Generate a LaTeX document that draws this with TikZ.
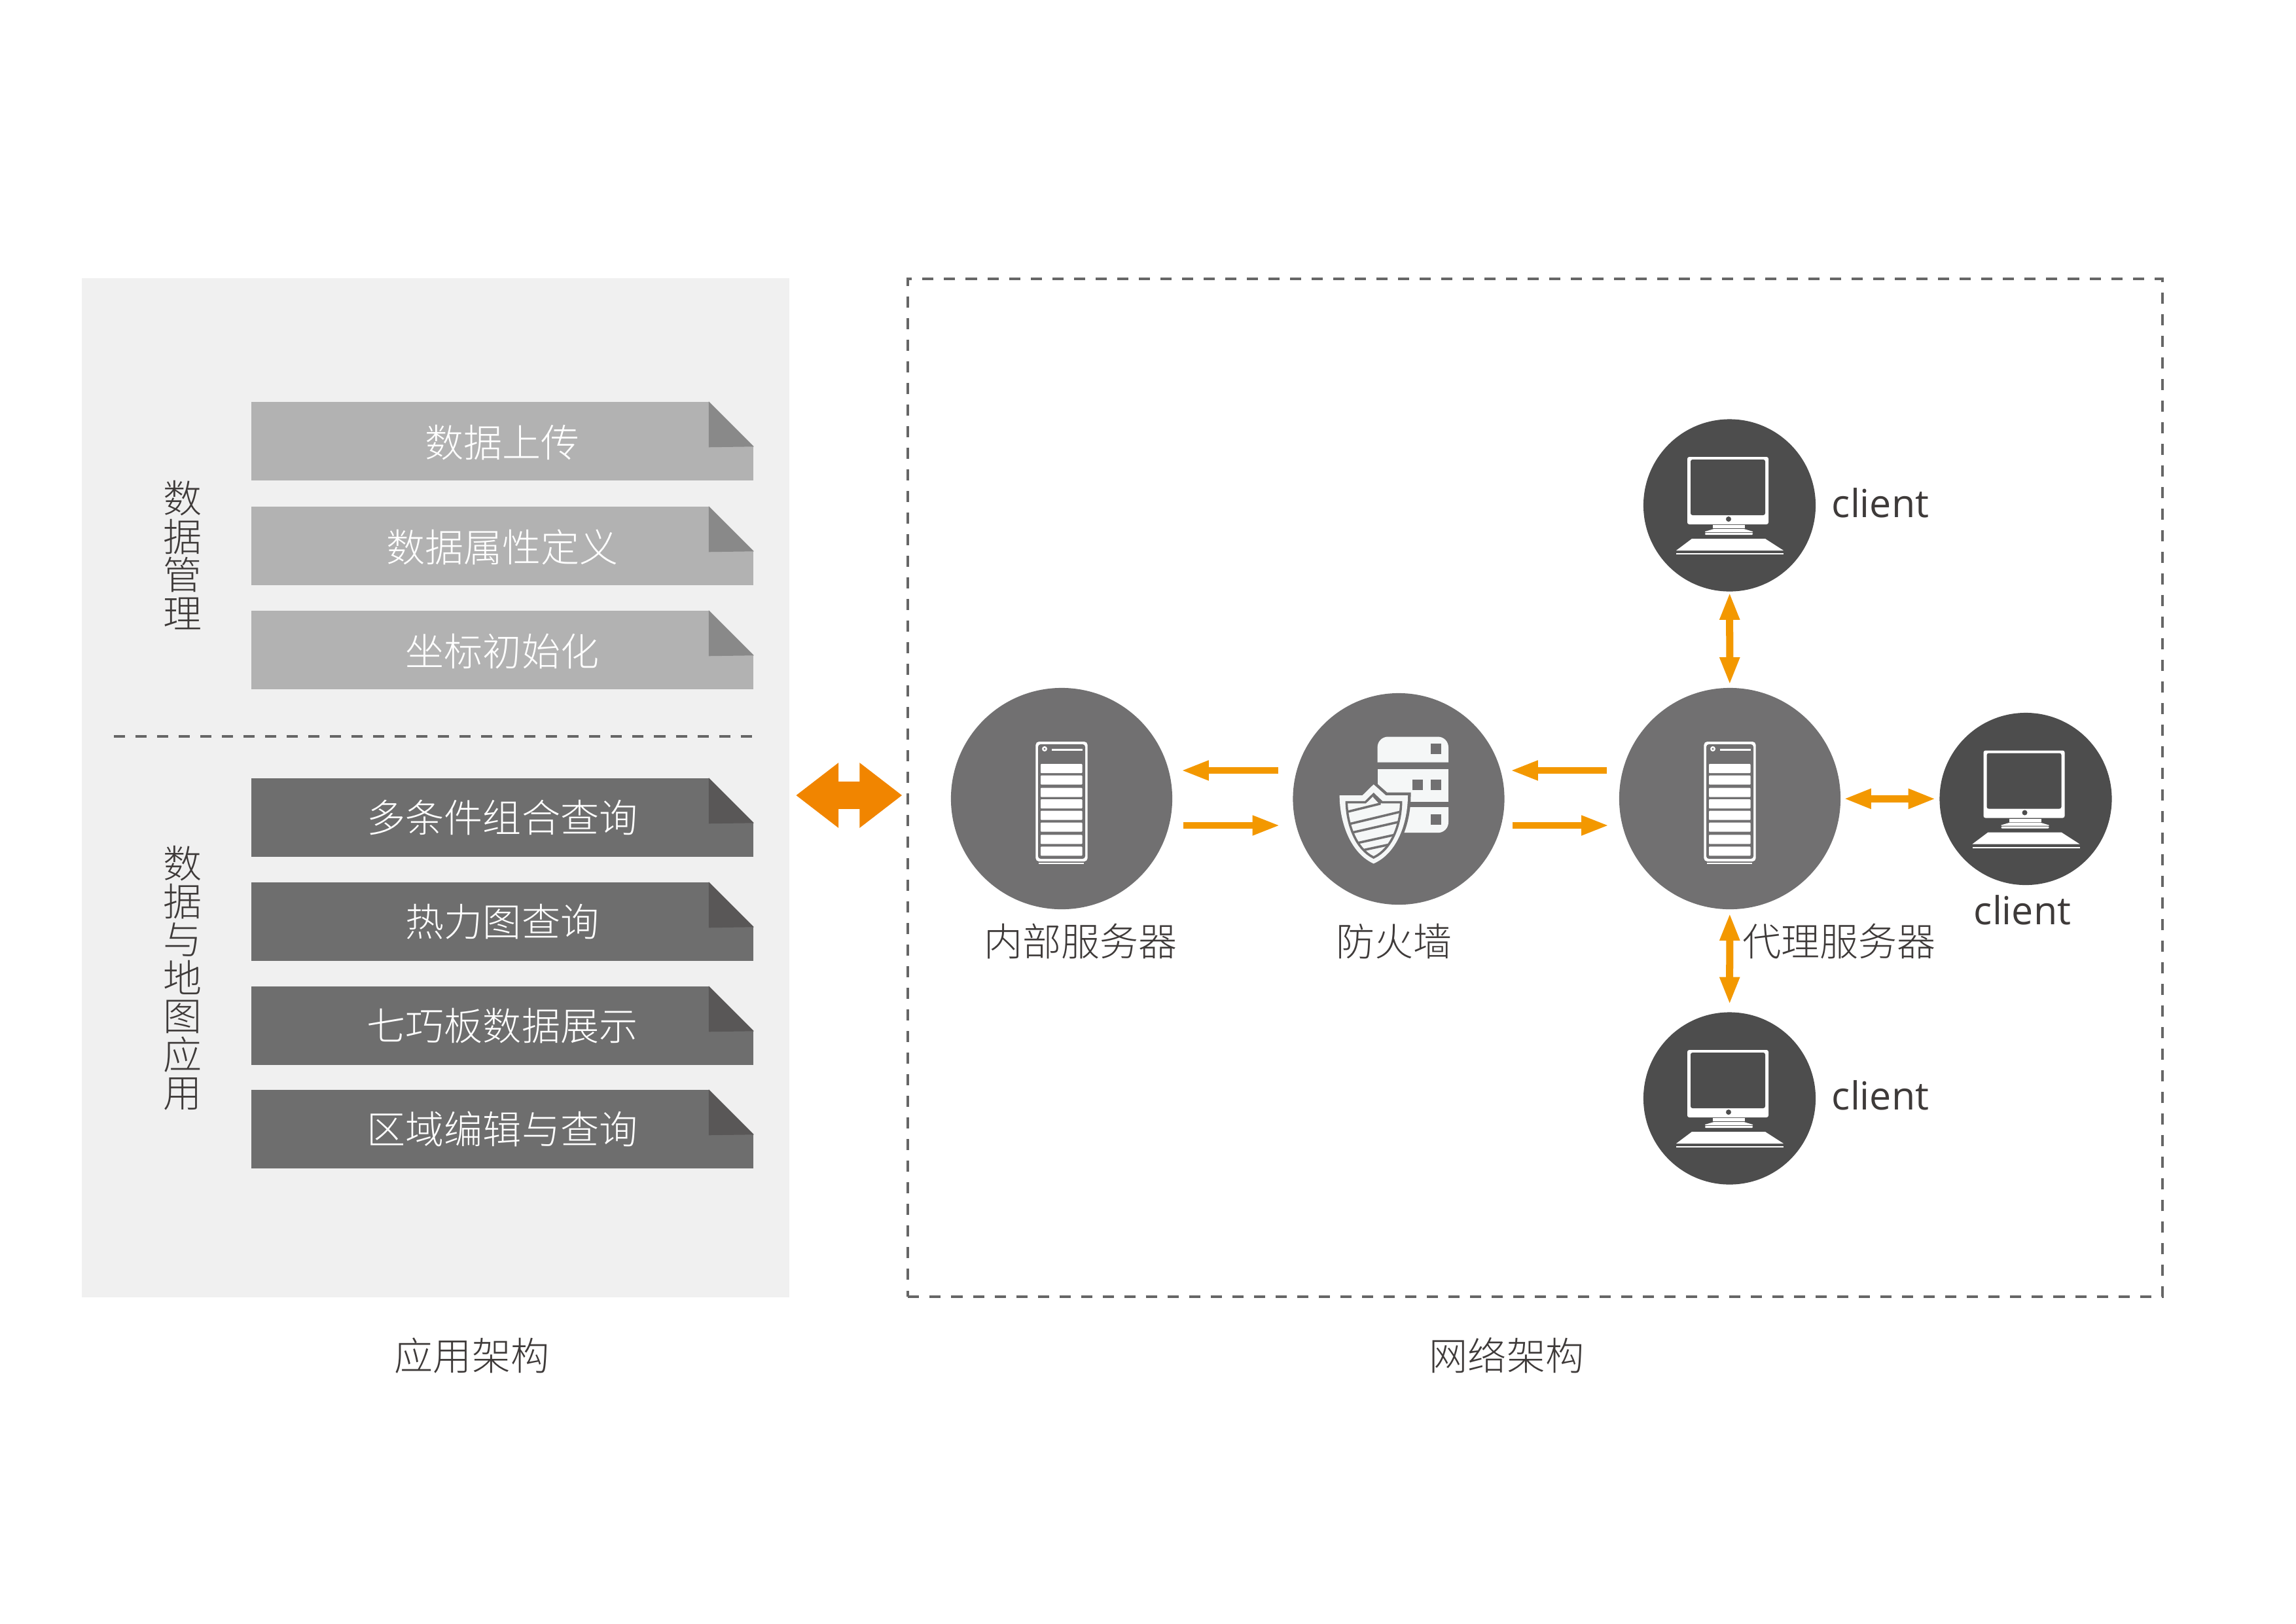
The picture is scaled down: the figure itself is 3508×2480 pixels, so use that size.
\documentclass[tikz,border=0pt]{standalone}
\usepackage{fontspec}
\newfontfamily\cjk{Noto Sans CJK SC Light}
\newfontfamily\latn{Open Sans}
\usetikzlibrary{arrows.meta, positioning, calc, shapes}
\definecolor{panelgray}{HTML}{F0F0F0}
\definecolor{lightrib}{HTML}{B2B2B2}
\definecolor{lightfold}{HTML}{898989}
\definecolor{darkrib}{HTML}{6E6E6E}
\definecolor{darkfold}{HTML}{595757}
\definecolor{hostgray}{HTML}{717071}
\definecolor{clientgray}{HTML}{4D4D4D}
\definecolor{flow}{HTML}{F39800}
\definecolor{bigflow}{HTML}{F18500}
\definecolor{inktext}{HTML}{3E3A39}
\definecolor{iconlight}{HTML}{F5F7F7}
\newcommand{\shieldouter}{(80,105) -- (185,105) -- (236,55) -- (292,105) -- (393,105)
  .. controls (393,230) and (345,370) .. (236,418) .. controls (130,370) and (80,230) .. (80,105) -- cycle}
\newcommand{\shieldinner}{(112,137) -- (198,137) -- (236,100) -- (275,137) -- (362,137)
  .. controls (360,240) and (320,350) .. (236,390) .. controls (155,350) and (115,240) .. (112,137) -- cycle}
\tikzset{
  label59/.style={font=\cjk\fontsize{16.8}{16.6}\selectfont, text=inktext, inner sep=0pt, align=center},
  clientlabel/.style={font=\latn\fontsize{16.8}{16.8}\selectfont, text=inktext, inner sep=0pt, anchor=base},
  ribbon/.style={minimum width=7.67cm, minimum height=1.2cm, inner sep=0pt, font=\cjk\fontsize{16.8}{16.8}\selectfont, text=white},
  host/.style={circle, fill=hostgray, minimum size=3.38cm, inner sep=0pt},
  client/.style={circle, fill=clientgray, minimum size=2.63cm, inner sep=0pt},
  flowline/.style={draw=flow, line width=.1cm, -{Triangle[length=.42cm,width=.28cm]}},
  biline/.style={draw=flow, line width=.11cm, {Triangle[length=.42cm,width=.28cm]}-{Triangle[length=.42cm,width=.28cm]}},
  dashline/.style={draw=black!60, line width=.04cm, dash pattern=on .17cm off .16cm},
  pics/rack/.style={code={
    \fill[white, rounded corners=.05cm] (-39.6,-87) rectangle (39.6,96);
    \fill[hostgray, rounded corners=.04cm] (-36,-83) rectangle (36,92);
    \fill[white] (-26,-76) circle (4);
    \fill[hostgray] (-26,-76) circle (1.5);
    \fill[white] (-15,-76.5) rectangle (31.5,-73.5);
    \foreach \ytop in {-53,-35.3,-16.3,1,18.7,36.7,55.3,73.3}
      \fill[white, rounded corners=.01cm] (-32,\ytop) rectangle (31.5,\ytop+14);
    \fill[white] (-35,97.7) rectangle (34,100);
  }},
  pics/monitor/.style={code={
    \fill[white, rounded corners=.03cm] (-64.5,-74) rectangle (59.5,29);
    \fill[clientgray, rounded corners=.03cm] (-59.5,-70) rectangle (54.5,15);
    \fill[clientgray] (-1.5,21) circle (4);
    \fill[white] (-25.5,30) rectangle (23.5,35);
    \fill[white] (-24,36) -- (22,36) -- (35.5,40) -- (35.5,41) -- (-37.5,41) -- (-37.5,40) -- cycle;
    \fill[white, rounded corners=.012cm] (-37.5,42) rectangle (35.5,45);
    \fill[white] (-57.5,51) -- (54.5,51) -- (82.5,69) -- (-81.5,69) -- cycle;
    \fill[white] (-81.5,73) rectangle (82.5,75);
  }},
  pics/firewall/.style={code={
    % server stack
    \fill[iconlight] (-32.4,-56) [rounded corners=.16cm] -- (-32.4,-95) -- (76,-95) [sharp corners] -- (76,-56) -- cycle;
    \fill[iconlight] (-32.4,-46) rectangle (76,4);
    \fill[iconlight] (-32.4,12.7) [rounded corners=.16cm] -- (-32.4,51.7) -- (76,51.7) [sharp corners] -- (76,12.7) -- cycle;
    \fill[hostgray] (48.7,-84.2) rectangle (64.5,-68.5);
    \fill[hostgray] (21,-29.2) rectangle (37,-13.5);
    \fill[hostgray] (48.7,-29.2) rectangle (64.5,-13.5);
    \fill[hostgray] (48.7,23.8) rectangle (64.5,39.5);
    % shield
    \begin{scope}[shift={(-117,-40.5)}, scale=1/3]
      \draw[draw=hostgray, line width=.09cm] \shieldouter;
      \fill[iconlight] \shieldouter;
      \draw[draw=hostgray, fill=iconlight, line width=.035cm] \shieldinner;
      \clip \shieldinner;
      \foreach \ya/\xa/\yb/\xb in {182/110/143/268, 240/110/180/360, 282/110/225/360, 335/110/280/360, 360/170/330/310}
        \draw[hostgray, line width=.035cm] (\xa,\ya) -- (\xb,\yb);
      \draw[hostgray, line width=.035cm] (268,143) -- (236,108);
    \end{scope}
  }}
}

\begin{document}
\begin{tikzpicture}[x=0.01cm, y=-0.01cm]
  \useasboundingbox (0,0) rectangle (3508,2480);
  % Left panel and network box
  \node[fill=panelgray, minimum width=10.81cm, minimum height=15.57cm, inner sep=0pt] (panel) at (665.5,1203.5) {};
  \node[dashline, minimum width=19.15cm, minimum height=15.55cm, inner sep=0pt, draw] (netbox) at (2345.5,1203.5) {};
  \node[label59] (appcap) at (721,2071) {应用架构};
  \node[label59] (netcap) at (2302,2071) {网络架构};

  % Ribbons
  \foreach \nm/\ytop/\txt in {up/614/数据上传, attr/774/数据属性定义, coord/933/坐标初始化}{
    \node[ribbon, fill=lightrib, text depth=-.03cm] (\nm) at (767.5,\ytop+60) {\txt};
    \fill[panelgray] (\nm.north east) -- ++(-69,0) -- ++(69,69) -- cycle;
    \fill[lightfold] (\nm.north east) ++(-69,0) -- ++(69,69) -- ++(-69,1) -- cycle;
  }
  \foreach \nm/\ytop/\txt in {multi/1189/多条件组合查询, heat/1348/热力图查询, board/1507/七巧板数据展示, area/1665/区域编辑与查询}{
    \node[ribbon, fill=darkrib] (\nm) at (767.5,\ytop+60) {\txt};
    \fill[panelgray] (\nm.north east) -- ++(-69,0) -- ++(69,69) -- cycle;
    \fill[darkfold] (\nm.north east) ++(-69,0) -- ++(69,69) -- ++(-69,1) -- cycle;
  }
  \node[label59] (datalbl) at (279,848) {数\\据\\管\\理};
  \node[label59] (maplbl) at (279,1494) {数\\据\\与\\地\\图\\应\\用};
  \coordinate (ruleL) at (174,1125);
  \coordinate (ruleR) at (1157,1125);
  \draw[dashline] (ruleL) -- (ruleR);

  % Hosts
  \node[host] (inner) at (1622,1220) {};
  \node[host, minimum size=3.23cm] (fire) at (2137,1220.5) {};
  \node[host] (proxy) at (2643,1220) {};
  \pic at (inner) {rack};
  \pic at (fire) {firewall};
  \pic at (proxy) {rack};
  \node[label59] (innerlbl) at (1651,1438) {内部服务器};
  \node[label59] (firelbl) at (2130,1438) {防火墙};
  \node[label59] (proxylbl) at (2810,1438) {代理服务器};

  % Clients
  \node[client] (ctop) at (2642.5,772) {};
  \node[client] (cright) at (3095,1220.5) {};
  \node[client] (cbot) at (2642.5,1678) {};
  \foreach \c in {ctop,cright,cbot}
    \pic at (\c) {monitor};
  \node[clientlabel] (ctoplbl) at (2873,790) {client};
  \node[clientlabel] (crightlbl) at (3090,1412) {client};
  \node[clientlabel] (cbotlbl) at (2873,1695) {client};

  % Arrows
  \coordinate (upper) at (0,1177);
  \coordinate (lower) at (0,1261);
  \coordinate (bigmid) at (0,1215);
  \draw[flowline, shorten <=.18cm, shorten >=.085cm] (proxy.west |- upper) -- (fire.east |- upper);
  \draw[flowline, shorten <=.115cm, shorten >=.15cm] (fire.east |- lower) -- (proxy.west |- lower);
  \draw[flowline, shorten <=.22cm, shorten >=.13cm] (fire.west |- upper) -- (inner.east |- upper);
  \draw[flowline, shorten <=.16cm, shorten >=.19cm] (inner.east |- lower) -- (fire.west |- lower);
  \draw[biline, shorten <=.005cm, shorten >=.04cm] (ctop) -- (proxy);
  \draw[biline, shorten <=.05cm, shorten >=.11cm] (proxy) -- (cbot);
  \draw[biline, shorten <=.04cm, shorten >=.05cm] (proxy) -- (cright);
  \draw[draw=bigflow, line width=.42cm, {Triangle[length=.65cm,width=.95cm]}-{Triangle[length=.65cm,width=.95cm]}, shorten <=.09cm, shorten >=.07cm]
    (panel.east |- bigmid) -- (netbox.west |- bigmid);
\end{tikzpicture}
\end{document}
